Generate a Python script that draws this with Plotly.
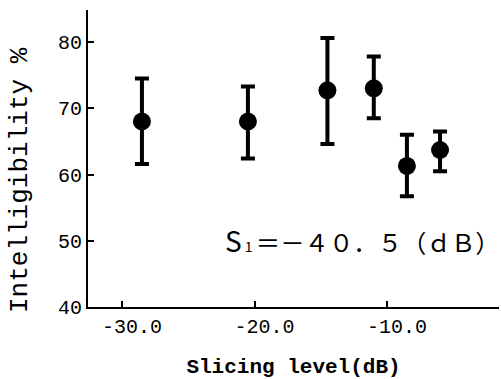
import plotly.graph_objects as go

# Data
slicing_level = [-28.5, -20.5, -14.5, -11.0, -8.5, -6.0]
intelligibility = [68.0, 68.0, 72.7, 73.0, 61.3, 63.7]
upper = [74.5, 73.3, 80.6, 77.8, 66.0, 66.5]
lower = [61.6, 62.4, 64.6, 68.5, 56.7, 60.5]

x_tick_vals = [-30, -20, -10]
x_tick_text = ["-30.0", "-20.0", "-10.0"]
y_tick_vals = [40, 50, 60, 70, 80]
y_tick_text = ["40", "50", "60", "70", "80"]

err_plus = [u - v for u, v in zip(upper, intelligibility)]
err_minus = [v - l for v, l in zip(intelligibility, lower)]

mono = "Liberation Mono, DejaVu Sans Mono, monospace"

fig = go.Figure()
fig.add_trace(go.Scatter(
    x=slicing_level, y=intelligibility, mode="markers",
    marker=dict(color="black", size=18, symbol="circle"),
    error_y=dict(type="data", symmetric=False, array=err_plus, arrayminus=err_minus,
                 color="black", thickness=4, width=7),
    showlegend=False, cliponaxis=False,
))

tick_font = dict(family=mono, size=20, color="black")

plot_w = 501 - 88 - 2
plot_h = 379 - 10 - 72

fig.update_layout(
    width=501, height=379,
    margin=dict(l=88, r=2, t=10, b=72),
    paper_bgcolor="white", plot_bgcolor="white",
    xaxis=dict(
        range=[-32.57, -1.55], tickmode="array", tickvals=x_tick_vals, ticktext=x_tick_text,
        ticks="inside", ticklen=6, tickwidth=2, tickcolor="black", ticklabelshift=10,
        showline=True, linecolor="black", linewidth=2, showgrid=False, zeroline=False,
        tickfont=tick_font,
        title=dict(text="<b>Slicing level(dB)</b>", standoff=20,
                   font=dict(family=mono, size=21, color="black")),
    ),
    yaxis=dict(
        range=[40, 84.83], tickmode="array", tickvals=y_tick_vals, ticktext=y_tick_text,
        ticks="inside", ticklen=6, tickwidth=2, tickcolor="black",
        showline=True, linecolor="black", linewidth=2, showgrid=False, zeroline=False,
        tickfont=tick_font,
    ),
    annotations=[
        dict(
            x=-22.35, y=50.1, xref="x", yref="y", xanchor="left", yanchor="middle",
            text=("<span style='font-size:28px'>S</span>"
                  "<span style='font-size:14px'> 1 </span>"
                  "＝－４０．５（ｄＢ）"),
            showarrow=False,
            font=dict(family="Noto Sans CJK JP", size=24.4, color="black"),
        ),
        dict(
            x=(20 - 88) / plot_w, y=(379 - 72 - 180) / plot_h, xref="paper", yref="paper",
            showarrow=False, text="Intelligibility %", textangle=-90,
            xanchor="center", yanchor="middle",
            font=dict(family=mono, size=26, color="black"),
        ),
    ],
)

fig.write_html("out.html")
